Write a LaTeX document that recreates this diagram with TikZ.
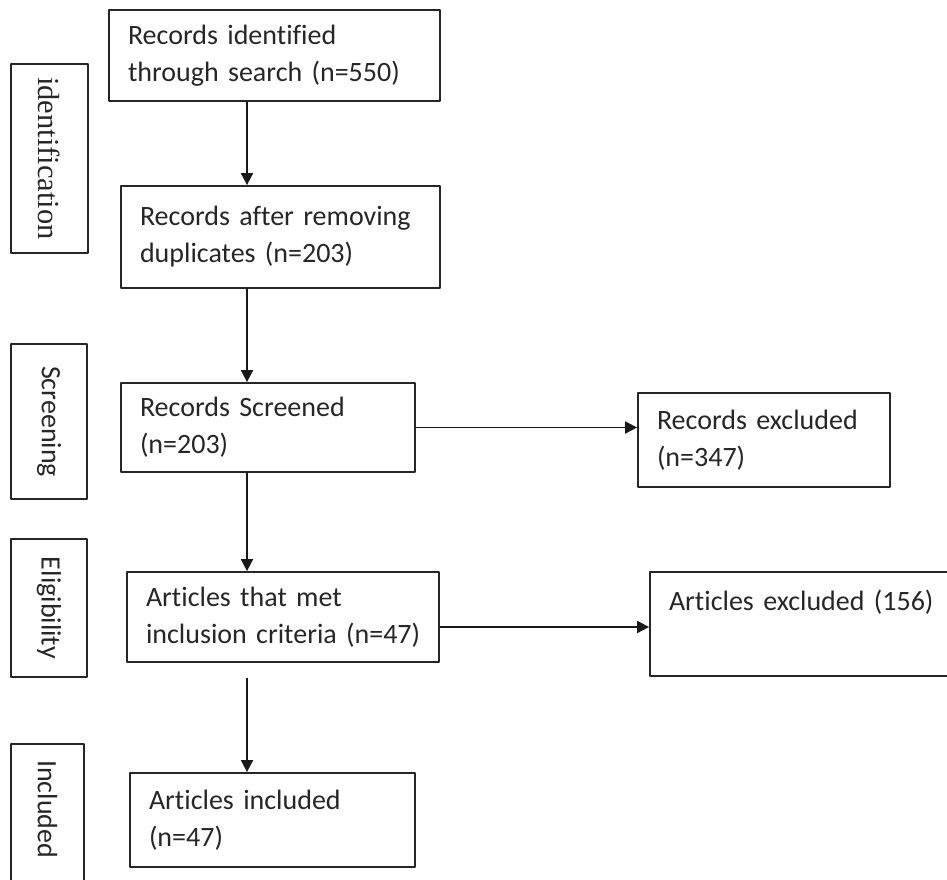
\documentclass[tikz,border=0pt]{standalone}
\usepackage{fontspec}
\setmainfont{Carlito}[Ligatures={NoCommon,NoRare},RawFeature={-liga;-dlig}]
\newfontfamily\stageserif{Liberation Serif}
\usetikzlibrary{arrows.meta}
\begin{document}
\begin{tikzpicture}[x=1pt,y=-1pt,line join=round,
		box/.style={draw=black!85,line width=1.8pt,text=black!85,align=left,inner xsep=19pt,inner ysep=0pt,font=\fontsize{28}{37}\selectfont},
		stage/.style={draw=black!85,line width=1.8pt,text=black!85,rotate=-90,inner sep=0pt,font=\fontsize{28}{34}\selectfont},
		arr/.style={-{Triangle[length=12pt,width=12pt]},line width=1.8pt,black!90}]
	\clip (0,0) rectangle (947,879);
	\node[box,text width=293pt,minimum height=91pt] (search) at (274.5,55.5) {\mbox{Records identified}\\\mbox{through search (n=550)}};
	\node[box,text width=281pt,minimum height=102pt] (dupl) at (280.5,237) {\mbox{Records after removing}\\\mbox{duplicates (n=203)}};
	\node[box,text width=256pt,minimum height=89pt] (screened) at (268,427.5) {\mbox{Records Screened}\\(n=203)};
	\node[box,text width=214pt,minimum height=94pt] (recexcl) at (764,440) {\mbox{Records excluded}\\(n=347)};
	\node[box,text width=274pt,minimum height=90pt] (met) at (283,617) {\mbox{Articles that met}\\\mbox{inclusion criteria (n=47)}};
	\node[box,text width=302pt,minimum height=104pt] (artexcl) at (820,624) {\mbox{Articles excluded (156)}\\\strut};
	\node[box,text width=247pt,minimum height=94pt] (incl) at (272.5,820) {\mbox{Articles included}\\(n=47)};
	\node[stage,minimum width=189pt,minimum height=77pt,font=\stageserif\fontsize{30.5}{34}\selectfont] (lident) at (49.5,158.5) {identification};
	\node[stage,minimum width=155pt,minimum height=76pt] (lscreen) at (49,421.5) {Screening};
	\node[stage,minimum width=138pt,minimum height=76pt] (lelig) at (49,608) {Eligibility};
	\node[stage,minimum height=73pt,text width=134pt,inner xsep=16pt,align=left] (lincl) at (47.5,827) {Included};
	\coordinate (ax) at (247,0);
	\coordinate (metlow) at ([yshift=-15pt]met.south);
	\coordinate (metright) at ([yshift=-10pt]met.east);
	\draw[arr] (search.south -| ax) -- (dupl.north -| ax);
	\draw[arr] (dupl.south -| ax) -- (screened.north -| ax);
	\draw[arr] (screened.south -| ax) -- (met.north -| ax);
	\draw[arr] (metlow -| ax) -- (incl.north -| ax);
	\draw[arr] (screened.east) -- (screened.east -| recexcl.west);
	\draw[arr] (metright) -- (metright -| artexcl.west);
\end{tikzpicture}
\end{document}
